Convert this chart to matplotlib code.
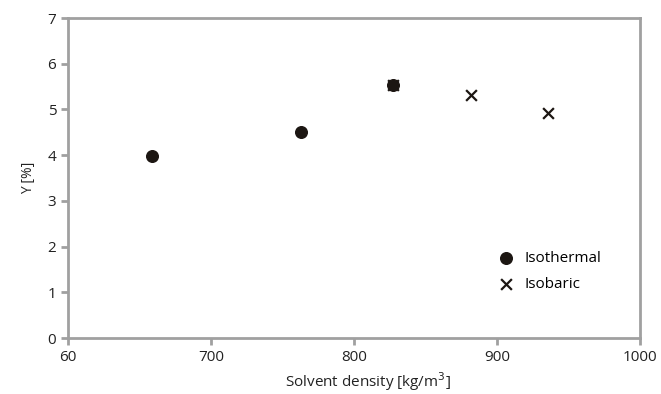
import matplotlib.pyplot as plt

# data
iso_t_x = [659, 763, 827]
iso_t_y = [3.98, 4.50, 5.54]
iso_b_x = [827, 882, 936]
iso_b_y = [5.53, 5.31, 4.93]

xticks = [600, 700, 800, 900, 1000]
xticklabels = ['60', '700', '800', '900', '1000']

plt.rcParams['font.family'] = ['Open Sans', 'DejaVu Sans']
grey = '#a0a0a0'
dark = '#1c1612'

fig = plt.figure(figsize=(6.61, 3.94), dpi=100)
ax = fig.add_axes([68/661, 56/394, 572/661, 320/394])

ax.scatter(iso_t_x, iso_t_y, s=70, color=dark, marker='o', label='Isothermal', zorder=3)
ax.scatter(iso_b_x, iso_b_y, s=60, color=dark, marker='x', linewidths=1.6, label='Isobaric', zorder=4)

ax.set_xlim(600, 1000)
ax.set_ylim(0, 7)
ax.set_xticks(xticks)
ax.set_xticklabels(xticklabels)
ax.set_yticks(range(8))

for s in ax.spines.values():
    s.set_color(grey)
    s.set_linewidth(2)
ax.tick_params(colors=grey, labelcolor='#222222', labelsize=11, width=2, length=5)

ax.set_xlabel('Solvent density [kg/m$^3$]', fontsize=11, color='#222222', labelpad=4, x=0.525)
ax.set_ylabel('Y [%]', fontsize=10, color='#222222', labelpad=8)

leg = ax.legend(loc='lower left', bbox_to_anchor=(0.715, 0.1), frameon=False, fontsize=11,
                handletextpad=0.2, labelspacing=0.75)

fig.savefig('out.png', dpi=100)
